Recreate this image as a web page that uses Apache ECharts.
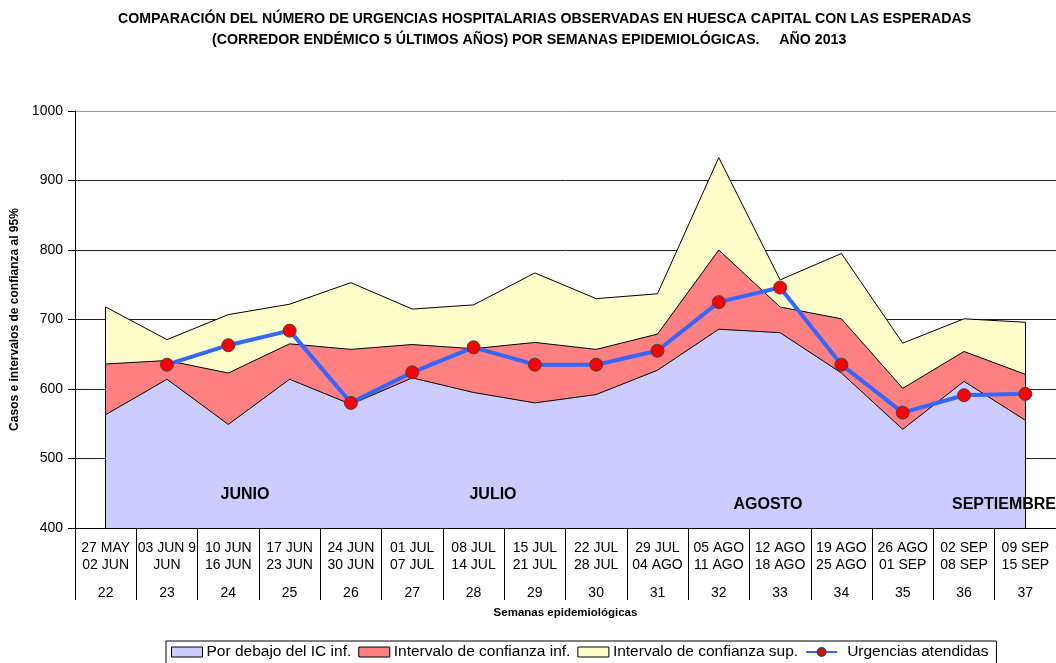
<!DOCTYPE html>
<html>
<head>
<meta charset="utf-8">
<script src="https://cdn.jsdelivr.net/npm/echarts@6/dist/echarts.min.js"></script>
<style>
  html, body { margin: 0; padding: 0; background: #fff; }
  #chart { width: 1056px; height: 663px; }
</style>
</head>
<body>
<div id="chart"></div>
<script>
// semanas epidemiológicas y sus fechas
const fechaIni = ['27 MAY', '03 JUN 9', '10 JUN', '17 JUN', '24 JUN', '01 JUL', '08 JUL', '15 JUL',
    '22 JUL', '29 JUL', '05 AGO', '12 AGO', '19 AGO', '26 AGO', '02 SEP', '09 SEP']
const fechaFin = ['02 JUN', 'JUN', '16 JUN', '23 JUN', '30 JUN', '07 JUL', '14 JUL', '21 JUL',
    '28 JUL', '04 AGO', '11 AGO', '18 AGO', '25 AGO', '01 SEP', '08 SEP', '15 SEP']
const semanas = [22, 23, 24, 25, 26, 27, 28, 29, 30, 31, 32, 33, 34, 35, 36, 37]

// corredor endémico (límites de cada banda)
const icInf = [563, 614, 549, 614, 578, 616, 595, 580, 592, 627, 686, 681, 623, 542, 611, 555]
const icMedio = [636, 641, 623, 665, 657, 664, 658, 667, 657, 679, 800, 718, 701, 601, 654, 621]
const icSup = [718, 671, 707, 722, 753, 715, 721, 767, 730, 737, 933, 757, 795, 666, 701, 696]
// urgencias observadas
const urgencias = [null, 635, 663, 684, 580, 624, 660, 635, 635, 655, 725, 746, 635, 566, 591, 593]

const ticksY = [400, 500, 600, 700, 800, 900, 1000]

const cs = echarts.init(document.getElementById('chart'))

const categorias = semanas.map(function (s, i) {
    return fechaIni[i] + '\n' + fechaFin[i] + '\n' + s
})

// etiquetas de meses dentro del gráfico
const meses = [
    { text: 'JUNIO', x: 245, y: 495 },
    { text: 'JULIO', x: 493, y: 495 },
    { text: 'AGOSTO', x: 768, y: 505 },
    { text: 'SEPTIEMBRE', x: 1004, y: 505 }
]

const borde = { color: '#000', width: 1 }
const iconoBorde = { borderColor: '#000', borderWidth: 1 }
const estiloTitulo = { fontSize: 14.2, fontWeight: 'bold', color: '#000' }

const option = {
    animation: false,
    textStyle: { fontFamily: 'Liberation Sans, Arial, sans-serif' },
    title: [
        {
            text: 'COMPARACIÓN DEL NÚMERO DE URGENCIAS HOSPITALARIAS OBSERVADAS EN HUESCA CAPITAL CON LAS ESPERADAS',
            left: 118,
            top: 12,
            padding: 0,
            textStyle: estiloTitulo
        },
        {
            text: '(CORREDOR ENDÉMICO 5 ÚLTIMOS AÑOS) POR SEMANAS EPIDEMIOLÓGICAS.     AÑO 2013',
            left: 212,
            top: 33,
            padding: 0,
            textStyle: estiloTitulo
        }
    ],
    legend: {
        top: 641,
        left: 166,
        padding: [3, 8, 6, 5],
        itemGap: 7,
        itemWidth: 31,
        itemHeight: 10,
        borderColor: '#000',
        borderWidth: 1,
        textStyle: { fontSize: 15.5, color: '#000', padding: [0, 0, 0, -1] },
        data: [
            { name: 'Por debajo del IC inf.', icon: 'rect', itemStyle: iconoBorde },
            { name: 'Intervalo de confianza inf.', icon: 'rect', itemStyle: iconoBorde },
            { name: 'Intervalo de confianza sup.', icon: 'rect', itemStyle: iconoBorde },
            { name: 'Urgencias atendidas', textStyle: { padding: [0, 0, 0, 5] } }
        ]
    },
    grid: {
        left: 75,
        top: 111,
        right: -11,
        bottom: 135
    },
    xAxis: {
        type: 'category',
        data: categorias,
        boundaryGap: true,
        name: 'Semanas epidemiológicas',
        nameLocation: 'middle',
        nameGap: 79,
        nameTextStyle: { fontSize: 11.5, fontWeight: 'bold', color: '#000' },
        axisLine: { lineStyle: { color: '#000', width: 1 } },
        axisTick: { show: true, length: 72, lineStyle: { color: '#000' } },
        axisLabel: {
            interval: 0,
            margin: 12,
            color: '#000',
            formatter: function (v) {
                const p = v.split('\n')
                return '{a|' + p[0] + '}\n{a|' + p[1] + '}\n{b|' + p[2] + '}'
            },
            rich: {
                a: { fontSize: 14, lineHeight: 17, color: '#000' },
                b: { fontSize: 14, lineHeight: 39, color: '#000' }
            }
        }
    },
    yAxis: {
        type: 'value',
        min: ticksY[0],
        max: ticksY[ticksY.length - 1],
        interval: 100,
        name: 'Casos e intervalos de confianza al 95%',
        nameLocation: 'middle',
        nameGap: 54,
        nameTextStyle: { fontSize: 12, fontWeight: 'bold', color: '#000' },
        axisLine: { show: true, lineStyle: { color: '#000' } },
        axisTick: { show: true, length: 7, lineStyle: { color: '#000' } },
        axisLabel: {
            fontSize: 14,
            color: '#000',
            margin: 12,
            formatter: function (v) { return String(v) }
        },
        splitLine: {
            show: true,
            lineStyle: { color: ['#222', '#222', '#222', '#222', '#222', '#222', '#999'], width: 1 }
        }
    },
    graphic: meses.map(function (m) {
        return {
            type: 'text',
            x: m.x,
            y: m.y,
            z: 100,
            style: {
                text: m.text,
                fill: '#000',
                font: 'bold 16px Liberation Sans, Arial, sans-serif',
                textAlign: 'center',
                textVerticalAlign: 'middle'
            }
        }
    }),
    series: [
        {
            type: 'line',
            name: 'Intervalo de confianza sup.',
            data: icSup,
            symbol: 'none',
            lineStyle: borde,
            itemStyle: { color: '#ffffcc' },
            areaStyle: { color: '#ffffcc', opacity: 1, origin: 'start' },
            z: 1
        },
        {
            type: 'line',
            name: 'Intervalo de confianza inf.',
            data: icMedio,
            symbol: 'none',
            lineStyle: borde,
            itemStyle: { color: '#ff8080' },
            areaStyle: { color: '#ff8080', opacity: 1, origin: 'start' },
            z: 2
        },
        {
            type: 'line',
            name: 'Por debajo del IC inf.',
            data: icInf,
            symbol: 'none',
            lineStyle: borde,
            itemStyle: { color: '#ccccff' },
            areaStyle: { color: '#ccccff', opacity: 1, origin: 'start' },
            z: 3,
            // bordes verticales del área
            markLine: {
                silent: true,
                symbol: 'none',
                label: { show: false },
                lineStyle: { color: '#000', width: 1, type: 'solid' },
                data: [
                    [{ coord: [0, ticksY[0]] }, { coord: [0, icSup[0]] }],
                    [{ coord: [semanas.length - 1, ticksY[0]] }, { coord: [semanas.length - 1, icSup[semanas.length - 1]] }]
                ]
            }
        },
        {
            type: 'line',
            name: 'Urgencias atendidas',
            data: urgencias,
            symbol: 'circle',
            symbolSize: 13,
            lineStyle: { color: '#3366ff', width: 4 },
            itemStyle: { color: '#ff0000', borderColor: '#444', borderWidth: 1 },
            z: 5
        }
    ]
}

cs.setOption(option)
</script>
</body>
</html>
